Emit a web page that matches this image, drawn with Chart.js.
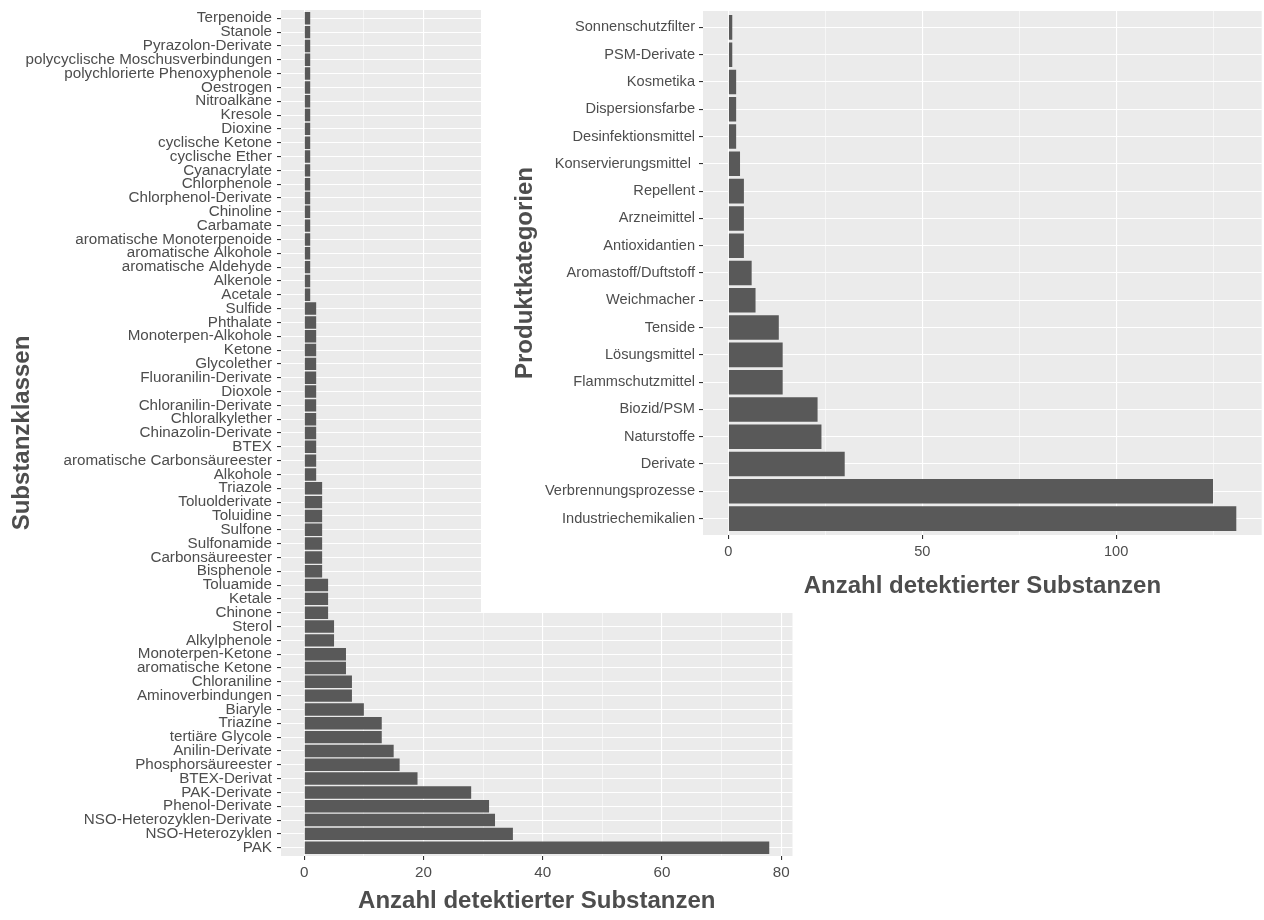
<!DOCTYPE html>
<html lang="de">
<head>
<meta charset="UTF-8">
<title>Substanzklassen und Produktkategorien</title>
<script src="https://cdn.jsdelivr.net/npm/chart.js"></script>
<style>
  body { margin: 0; background: #fff; }
  #wrap { position: relative; width: 1264px; height: 920px; overflow: hidden; }
  #substChart { position: absolute; left: 0; top: 0; }
  #prodChart { position: absolute; left: 481px; top: 0; }
</style>
</head>
<body>
<div id="wrap">
  <canvas id="substChart" width="800" height="920"></canvas>
  <canvas id="prodChart" width="783" height="613"></canvas>
</div>
<script>
// left plot: substance classes, top to bottom
const substLabels = [
  'Terpenoide', 'Stanole', 'Pyrazolon-Derivate', 'polycyclische Moschusverbindungen',
  'polychlorierte Phenoxyphenole', 'Oestrogen', 'Nitroalkane', 'Kresole', 'Dioxine',
  'cyclische Ketone', 'cyclische Ether', 'Cyanacrylate', 'Chlorphenole',
  'Chlorphenol-Derivate', 'Chinoline', 'Carbamate', 'aromatische Monoterpenoide',
  'aromatische Alkohole', 'aromatische Aldehyde', 'Alkenole', 'Acetale',
  'Sulfide', 'Phthalate', 'Monoterpen-Alkohole', 'Ketone', 'Glycolether',
  'Fluoranilin-Derivate', 'Dioxole', 'Chloranilin-Derivate', 'Chloralkylether',
  'Chinazolin-Derivate', 'BTEX', 'aromatische Carbonsäureester', 'Alkohole',
  'Triazole', 'Toluolderivate', 'Toluidine', 'Sulfone', 'Sulfonamide',
  'Carbonsäureester', 'Bisphenole', 'Toluamide', 'Ketale', 'Chinone', 'Sterol',
  'Alkylphenole', 'Monoterpen-Ketone', 'aromatische Ketone', 'Chloraniline',
  'Aminoverbindungen', 'Biaryle', 'Triazine', 'tertiäre Glycole', 'Anilin-Derivate',
  'Phosphorsäureester', 'BTEX-Derivat', 'PAK-Derivate', 'Phenol-Derivate',
  'NSO-Heterozyklen-Derivate', 'NSO-Heterozyklen', 'PAK'
];
const substValues = [
  1, 1, 1, 1, 1, 1, 1, 1, 1, 1, 1, 1, 1, 1, 1, 1, 1, 1, 1, 1, 1,
  2, 2, 2, 2, 2, 2, 2, 2, 2, 2, 2, 2, 2,
  3, 3, 3, 3, 3, 3, 3,
  4, 4, 4, 5, 5,
  7, 7, 8, 8, 10, 13, 13, 15, 16, 19, 28, 31, 32, 35, 78
];
const substTicks = [0, 20, 40, 60, 80];
const substMinor = [10, 30, 50, 70];

// inset plot: product categories, top to bottom
const prodLabels = [
  'Sonnenschutzfilter', 'PSM-Derivate', 'Kosmetika', 'Dispersionsfarbe',
  'Desinfektionsmittel', 'Konservierungsmittel ', 'Repellent', 'Arzneimittel',
  'Antioxidantien', 'Aromastoff/Duftstoff', 'Weichmacher', 'Tenside',
  'Lösungsmittel', 'Flammschutzmittel', 'Biozid/PSM', 'Naturstoffe', 'Derivate',
  'Verbrennungsprozesse', 'Industriechemikalien'
];
const prodValues = [1, 1, 2, 2, 2, 3, 4, 4, 4, 6, 7, 13, 14, 14, 23, 24, 30, 125, 131];
const prodTicks = [0, 50, 100];
const prodMinor = [25, 75, 125];

const xTitle = 'Anzahl detektierter Substanzen';

Chart.defaults.font.family = '"Liberation Sans", Arial, sans-serif';
Chart.defaults.animation = false;

// grey ggplot panel (and white plot background for the inset)
const panelBg = {
  id: 'panelBg',
  beforeDraw(chart, args, opts) {
    const { ctx, chartArea: a } = chart;
    ctx.save();
    if (opts.white) {
      ctx.fillStyle = '#ffffff';
      ctx.fillRect(0, 0, chart.width, chart.height);
    }
    ctx.fillStyle = '#EBEBEB';
    ctx.fillRect(a.left, a.top, a.right - a.left, a.bottom - a.top);
    ctx.restore();
  }
};

function makeChart(id, labels, values, major, minor, yTitle, lay) {
  const top = Math.max(...values);
  const all = major.concat(minor).sort((a, b) => a - b);
  return new Chart(document.getElementById(id), {
    type: 'bar',
    data: {
      datasets: [{
        data: values.map((v, i) => ({ x: v, y: i })),
        backgroundColor: '#595959',
        borderWidth: 0,
        categoryPercentage: 0.9,
        barPercentage: 1.0
      }]
    },
    plugins: [panelBg],
    options: {
      indexAxis: 'y',
      responsive: false,
      layout: { padding: { top: lay.top, right: lay.right, left: 0, bottom: 0 } },
      plugins: {
        legend: { display: false },
        tooltip: { enabled: false },
        panelBg: { white: lay.white }
      },
      scales: {
        y: {
          type: 'linear',
          reverse: true,
          offset: false,
          min: -0.6,
          max: labels.length - 1 + 0.6,
          afterBuildTicks: s => { s.ticks = labels.map((_, i) => ({ value: i })); },
          afterFit: s => { s.width = lay.yWidth; s.paddingTop = 0; s.paddingBottom = 0; },
          border: { display: false },
          grid: { offset: false, color: '#ffffff', lineWidth: 1.1, tickColor: '#333333', tickLength: 4, tickWidth: 1.1 },
          ticks: {
            autoSkip: false,
            padding: lay.yTickPad,
            color: '#4D4D4D',
            font: { size: lay.tickSize },
            callback: v => labels[v]
          },
          title: {
            display: true,
            text: yTitle,
            color: '#4D4D4D',
            font: { size: 24, weight: 'bold' },
            padding: { top: lay.yTitlePad, bottom: 0 }
          }
        },
        x: {
          type: 'linear',
          offset: false,
          min: -0.05 * top,
          max: top * 1.05,
          afterBuildTicks: s => { s.ticks = all.map(v => ({ value: v })); },
          afterFit: s => { s.height = lay.xHeight; s.paddingLeft = 0; s.paddingRight = 0; },
          border: { display: false },
          grid: {
            offset: false,
            color: '#ffffff',
            lineWidth: c => major.includes(c.tick.value) ? 1.1 : 0.55,
            tickColor: c => major.includes(c.tick.value) ? '#333333' : 'rgba(0,0,0,0)',
            tickLength: 4,
            tickWidth: 1.1
          },
          ticks: {
            autoSkip: false,
            maxRotation: 0,
            padding: lay.xTickPad,
            color: '#4D4D4D',
            font: { size: lay.tickSize },
            callback: v => major.includes(v) ? String(v) : ''
          },
          title: {
            display: true,
            text: xTitle,
            color: '#4D4D4D',
            font: { size: 24, weight: 'bold' },
            padding: { top: 0, bottom: lay.xTitlePad }
          }
        }
      }
    }
  });
}

makeChart('substChart', substLabels, substValues, substTicks, substMinor, 'Substanzklassen', {
  top: 10, right: 7.5, yWidth: 281, xHeight: 64, xTickPad: 3.9, yTickPad: 5,
  xTitlePad: 4.6, yTitlePad: 7.6, tickSize: 15.2, white: false
});

makeChart('prodChart', prodLabels, prodValues, prodTicks, prodMinor, 'Produktkategorien', {
  top: 11, right: 2.3, yWidth: 222, xHeight: 78, xTickPad: 3.9, yTickPad: 4,
  xTitlePad: 12.6, yTitlePad: 29.6, tickSize: 14.6, white: true
});
</script>
</body>
</html>
